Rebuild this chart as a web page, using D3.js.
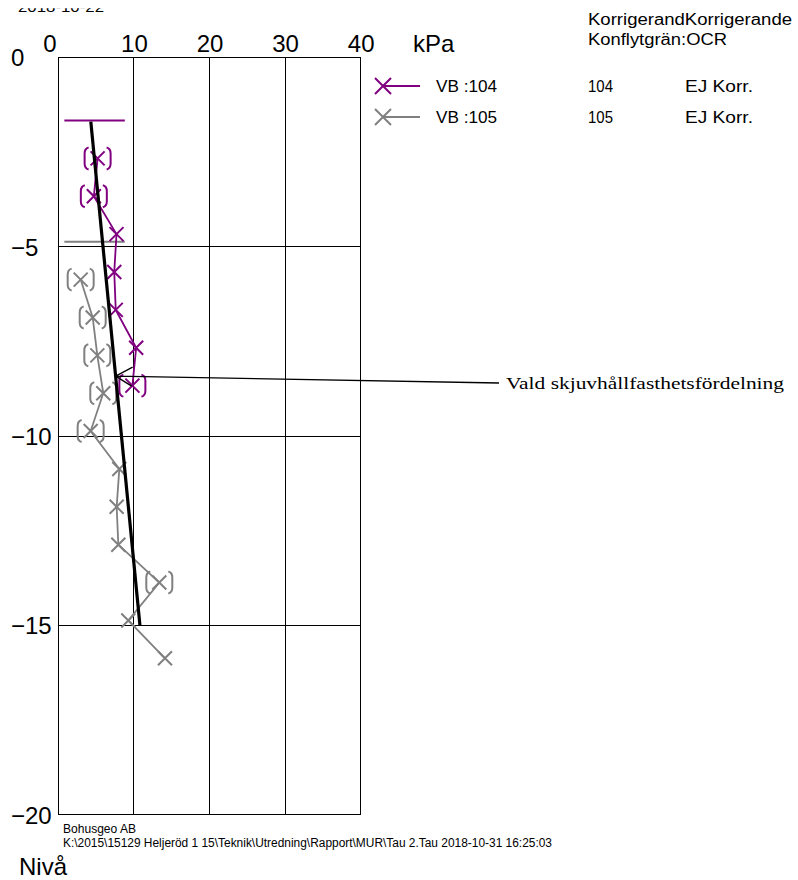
<!DOCTYPE html>
<html>
<head>
<meta charset="utf-8">
<script src="https://cdn.jsdelivr.net/npm/d3@7"></script>
<style>
  html, body { margin: 0; padding: 0; background: #fff; }
  svg { display: block; }
  text { fill: #000; }
</style>
</head>
<body>
<svg id="chart" width="798" height="880" font-family="Liberation Sans, Arial, sans-serif"></svg>
<script>
// Shear strength (kPa) versus level for two vane borings
const xTicks = [0, 10, 20, 30, 40];
const yTicks = [0, -5, -10, -15, -20];

const seriesNames = ["VB :104", "VB :105"];
const seriesIds = ["104", "105"];
const seriesCorr = ["EJ Korr.", "EJ Korr."];
const seriesColors = ["#800080", "#808080"];

// Ground level of each boring
const groundLevel = [-1.67, -4.87];

// VB 104
const level104 = [-2.67, -3.67, -4.67, -5.67, -6.67, -7.67, -8.67];
const tau104 = [5.2, 4.7, 7.7, 7.4, 7.6, 10.3, 9.8];
const doubt104 = [true, true, false, false, false, false, true];

// VB 105
const level105 = [-5.87, -6.87, -7.87, -8.87, -9.87, -10.87, -11.87, -12.87, -13.87, -14.87, -15.87];
const tau105 = [2.96, 4.55, 5.16, 5.95, 4.28, 8.07, 7.72, 7.94, 13.36, 9.26, 14.11];
const doubt105 = [true, true, true, true, true, false, false, false, true, false, false];

// Selected shear strength profile
const chosenTau = [4.3, 10.8];
const chosenLevel = [-1.7, -15.0];
const chosenLabel = "Vald skjuvhållfasthetsfördelning";
const chosenArrowLevel = -8.42;

const sans = "Liberation Sans, Arial, sans-serif";
const serif = "Liberation Serif, Times New Roman, serif";

const svg = d3.select("#chart");
const x = d3.scaleLinear().domain([0, 40]).range([58.3, 360.7]);
const y = d3.scaleLinear().domain([0, -20]).range([57.3, 814.7]);

// Date line at the very top, mostly running off the sheet
svg.append("text")
  .attr("x", 18).attr("y", 11.5).attr("font-size", 15)
  .attr("textLength", 86).attr("lengthAdjust", "spacingAndGlyphs")
  .text("2018-10-22");
svg.append("rect").attr("x", 0).attr("y", 0).attr("width", 200).attr("height", 8.2).attr("fill", "#fff");

// Grid
const grid = svg.append("g").attr("stroke", "#000").attr("stroke-width", 1).attr("shape-rendering", "crispEdges");
grid.selectAll("line.v").data(xTicks.slice(1, -1)).join("line")
  .attr("x1", d => x(d)).attr("x2", d => x(d)).attr("y1", y(0)).attr("y2", y(-20));
grid.selectAll("line.h").data(yTicks.slice(1, -1)).join("line")
  .attr("x1", x(0)).attr("x2", x(40)).attr("y1", d => y(d)).attr("y2", d => y(d));
grid.append("rect").attr("x", x(0)).attr("y", y(0))
  .attr("width", x(40) - x(0)).attr("height", y(-20) - y(0)).attr("fill", "none");

// Axes (labels only)
const xAxis = svg.append("g").attr("transform", `translate(0,${y(0) - 5})`)
  .call(d3.axisTop(x).tickValues(xTicks).tickSize(0).tickPadding(0).tickFormat(d3.format("d")));
xAxis.select(".domain").remove();
xAxis.attr("font-family", sans).attr("font-size", 24);
xAxis.selectAll("text").attr("fill", "#000").attr("dy", 0).attr("dx", d => d === 0 ? -9 : 0);

svg.append("text").attr("x", 413).attr("y", 52).attr("font-size", 24).text("kPa");

const yAxis = svg.append("g").attr("transform", `translate(11,0)`)
  .call(d3.axisLeft(y).tickValues(yTicks).tickSize(0).tickPadding(0).tickFormat(d3.format("d")));
yAxis.select(".domain").remove();
yAxis.attr("font-family", sans).attr("font-size", 24);
yAxis.selectAll("text").attr("fill", "#000").attr("text-anchor", "start").attr("x", 0).attr("dy", "0.36em");

svg.append("text").attr("x", 19).attr("y", 875).attr("font-size", 24).text("Nivå");

// Marker helpers
function cross(g, cx, cy, color, r) {
  g.append("path").attr("d", `M${cx - r},${cy - r}L${cx + r},${cy + r}M${cx - r},${cy + r}L${cx + r},${cy - r}`)
    .attr("stroke", color).attr("stroke-width", 2).attr("fill", "none");
}
function brackets(g, cx, cy, color) {
  g.append("path")
    .attr("d", `M${cx - 9},${cy - 11}Q${cx - 13},${cy - 10} ${cx - 13},${cy - 5}L${cx - 13},${cy + 5}Q${cx - 13},${cy + 10} ${cx - 9},${cy + 11}` +
               `M${cx + 9},${cy - 11}Q${cx + 13},${cy - 10} ${cx + 13},${cy - 5}L${cx + 13},${cy + 5}Q${cx + 13},${cy + 10} ${cx + 9},${cy + 11}`)
    .attr("stroke", color).attr("stroke-width", 2).attr("fill", "none");
}

const line = d3.line().x(d => x(d[0])).y(d => y(d[1]));

function drawSeries(tau, level, doubt, ground, color) {
  const g = svg.append("g");
  // ground level mark
  g.append("line").attr("x1", x(0.8)).attr("x2", x(8.8)).attr("y1", y(ground)).attr("y2", y(ground))
    .attr("stroke", color).attr("stroke-width", 2);
  g.append("path").datum(d3.zip(tau, level)).attr("d", line)
    .attr("fill", "none").attr("stroke", color).attr("stroke-width", 1.8);
  tau.forEach((t, i) => {
    cross(g, x(t), y(level[i]), color, 7);
    if (doubt[i]) brackets(g, x(t), y(level[i]), color);
  });
}
drawSeries(tau105, level105, doubt105, groundLevel[1], seriesColors[1]);
drawSeries(tau104, level104, doubt104, groundLevel[0], seriesColors[0]);

// Selected profile
svg.append("path").datum(d3.zip(chosenTau, chosenLevel)).attr("d", line)
  .attr("fill", "none").attr("stroke", "#000").attr("stroke-width", 3.2);

// Annotation with arrow
const tAt = d3.scaleLinear().domain(chosenLevel).range(chosenTau)(chosenArrowLevel);
const ax = x(tAt), ay = y(chosenArrowLevel);
svg.append("path")
  .attr("d", `M${ax},${ay}L499,383M${ax},${ay}L${ax + 17},${ay - 9}M${ax},${ay}L${ax + 16},${ay + 10}`)
  .attr("stroke", "#000").attr("stroke-width", 1.3).attr("fill", "none");
svg.append("text").attr("x", 506).attr("y", 389)
  .attr("font-family", serif).attr("font-size", 17)
  .attr("textLength", 278).attr("lengthAdjust", "spacingAndGlyphs")
  .text(chosenLabel);

// Legend
svg.append("text").attr("x", 588).attr("y", 25).attr("font-size", 16)
  .attr("textLength", 204).attr("lengthAdjust", "spacingAndGlyphs").text("KorrigerandKorrigerande");
svg.append("text").attr("x", 588).attr("y", 45).attr("font-size", 16)
  .attr("textLength", 139).attr("lengthAdjust", "spacingAndGlyphs").text("Konflytgrän:OCR");

const legendRowY = d3.scalePoint().domain(seriesNames).range([86, 117]);
seriesNames.forEach((name, i) => {
  const ly = legendRowY(name);
  const g = svg.append("g");
  g.append("line").attr("x1", 383).attr("x2", 420).attr("y1", ly).attr("y2", ly)
    .attr("stroke", seriesColors[i]).attr("stroke-width", 2);
  cross(g, 383, ly, seriesColors[i], 8);
  g.append("text").attr("x", 436).attr("y", ly + 6).attr("font-size", 17)
    .attr("textLength", 61).attr("lengthAdjust", "spacingAndGlyphs").text(name);
  g.append("text").attr("x", 588).attr("y", ly + 6).attr("font-size", 17)
    .attr("textLength", 25).attr("lengthAdjust", "spacingAndGlyphs").text(seriesIds[i]);
  g.append("text").attr("x", 685).attr("y", ly + 6).attr("font-size", 17)
    .attr("textLength", 68).attr("lengthAdjust", "spacingAndGlyphs").text(seriesCorr[i]);
});

// Footer
svg.append("text").attr("x", 63).attr("y", 833).attr("font-size", 12)
  .attr("textLength", 73).attr("lengthAdjust", "spacingAndGlyphs").text("Bohusgeo AB");
svg.append("text").attr("x", 63).attr("y", 847).attr("font-size", 12)
  .attr("textLength", 489).attr("lengthAdjust", "spacingAndGlyphs")
  .text("K:\\2015\\15129 Heljeröd 1 15\\Teknik\\Utredning\\Rapport\\MUR\\Tau 2.Tau  2018-10-31 16:25:03");
</script>
</body>
</html>
